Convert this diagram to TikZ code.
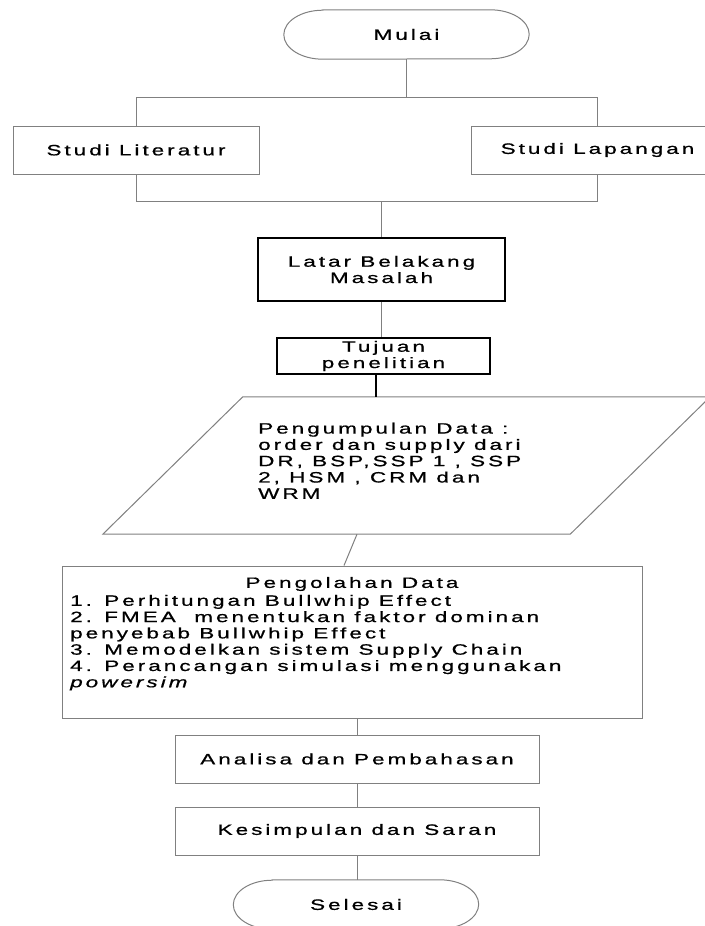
\documentclass[tikz,border=0pt]{standalone}
\usepackage{fontspec}
\usepackage{tikz}
\usetikzlibrary{shapes.geometric, positioning}
\newfontfamily\flowfont[FakeStretch=1.5, LetterSpace=20, FakeBold=0.8]{Liberation Sans}
\definecolor{linegray}{RGB}{128,128,128}

\begin{document}
\begin{tikzpicture}[
    x=1pt, y=-1pt,
    every node/.style={font=\flowfont\fontsize{15}{16.3}\selectfont, text=black},
    line/.style={draw=linegray, line width=1pt},
    strong/.style={draw=black, line width=2.5pt},
    box/.style={rectangle, draw=linegray, line width=1pt, minimum height=48pt, inner sep=0pt},
    thickbox/.style={rectangle, draw=black, line width=2pt, inner sep=0pt, align=center},
    terminal/.style={rectangle, minimum width=245pt, minimum height=49pt, inner sep=0pt,
        append after command={\pgfextra{\draw[line]
            ([xshift=39pt]\tikzlastnode.north west) -- ([xshift=-39pt]\tikzlastnode.north east)
            arc[start angle=90, end angle=-90, x radius=39pt, y radius=24.5pt]
            -- ([xshift=39pt]\tikzlastnode.south west)
            arc[start angle=270, end angle=90, x radius=39pt, y radius=24.5pt] -- cycle;}}},
    datashape/.style={rectangle, minimum width=467pt, minimum height=137pt, inner sep=0pt,
        append after command={\pgfextra{\draw[line]
            ([xshift=-70pt]\tikzlastnode.south west) -- ([xshift=70pt]\tikzlastnode.north west)
            -- ([xshift=70pt]\tikzlastnode.north east) -- ([xshift=-70pt]\tikzlastnode.south east) -- cycle;}}},
    listtext/.style={anchor=north west, align=left, inner sep=0pt}
]
    \fill[white] (0,0) rectangle (704,926);
    \useasboundingbox (0,0) rectangle (704,926);

    % Start and the two studies
    \node[terminal] (mulai) at (406.5,34.5) {Mulai};
    \node[box, minimum width=246pt] (lit) at (136,150) {Studi Literatur};
    \node[box, minimum width=253pt] (lap) at (597.5,150) {Studi Lapangan};
    \draw[line] (mulai.south) -- ++(0,38) coordinate (fork);
    \draw[line] (lit.north) -- (lit.north |- fork) -- (lap.north |- fork) -- (lap.north);
    \draw[line] (lit.south) -- ++(0,27) coordinate (join) -- (lap.south |- join) -- (lap.south);

    % Background and aim
    \node[thickbox, minimum width=247pt, minimum height=63pt] (latar) at (381.5,269.5) {Latar Belakang\\Masalah};
    \node[thickbox, minimum width=213pt, minimum height=36pt] (tujuan) at (383.5,356) {Tujuan\\penelitian};
    \draw[line] (latar.north |- join) -- (latar.north);
    \draw[line] (latar.south) -- (latar.south |- tujuan.north);

    % Data collection
    \node[datashape] (data) at (406.5,465.5) {};
    \node[listtext] (datatext) at (258,422.5) {Pengumpulan Data :\\order dan supply dari\\DR, BSP,SSP 1 , SSP\\2, HSM , CRM dan\\WRM};
    \draw[strong] ([xshift=-7.5pt]tujuan.south) -- ([xshift=-7.5pt]tujuan.south |- data.north);

    % Data processing
    \node[box, minimum width=580pt, minimum height=152pt] (olah) at (352,642) {};
    \node (olahtitle) at (352,584) {Pengolahan Data};
    \node[listtext] (olahtext) at (70,594.7) {1. Perhitungan Bullwhip Effect\\2. FMEA~ menentukan faktor dominan\\penyebab Bullwhip Effect\\3. Memodelkan sistem Supply Chain\\4. Perancangan simulasi menggunakan\\\textit{powersim}};
    \draw[line] ([xshift=-49.5pt]data.south) -- ([xshift=-8pt]olah.north);

    % Analysis, conclusion, end
    \node[box, minimum width=364pt] (analisa) at (357,759) {Analisa dan Pembahasan};
    \node[box, minimum width=364pt] (kesimpulan) at (357,831) {Kesimpulan dan Saran};
    \node[terminal] (selesai) at (356,904.5) {Selesai};
    \draw[line] (olah.south -| analisa.north) -- (analisa.north);
    \draw[line] (analisa.south) -- (kesimpulan.north);
    \draw[line] (kesimpulan.south) -- (kesimpulan.south |- selesai.north);
\end{tikzpicture}
\end{document}
